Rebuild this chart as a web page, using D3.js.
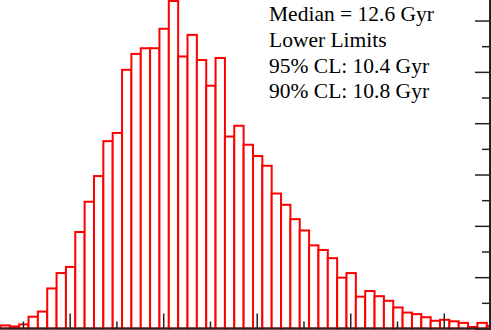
<!DOCTYPE html>
<html>
<head>
<meta charset="utf-8">
<script src="https://cdn.jsdelivr.net/npm/d3@7"></script>
<style>
  html, body { margin: 0; padding: 0; background: #fff; }
  svg { display: block; }
</style>
</head>
<body>
<div id="chart"></div>
<script>
// age histogram, bins of 0.2 Gyr
const binStart = 8.52;
const binWidth = 0.2;
const counts = [6, 4, 8, 23, 33, 78, 108, 120, 188, 247,
                297, 365, 381, 504, 535, 546, 546, 584, 638, 530,
                572, 523, 473, 527, 374, 395, 358, 336, 317, 263,
                241, 213, 191, 162, 153, 137, 99, 108, 62, 73,
                63, 54, 41, 31, 28, 22, 15, 17, 14, 11,
                3, 11, 5];

const xMajor = [10, 12, 14, 16, 18];
const xMinor = [9, 11, 13, 15, 17];
const yMajor = [0, 100, 200, 300, 400, 500, 600];
const yMinor = [50, 150, 250, 350, 450, 550];

const labels = ["Median = 12.6 Gyr", "Lower Limits", "95% CL: 10.4 Gyr", "90% CL: 10.8 Gyr"];

const width = 491;
const height = 330;
const bottom = 328.5;
const right = 490;

const svg = d3.select("#chart")
    .append("svg")
    .attr("width", width)
    .attr("height", height);

const x = d3.scaleLinear().domain([8.51, 19.01]).range([0, width]);
const y = d3.scaleLinear().domain([0, 640]).range([bottom, 0]);

const bins = counts.map((c, i) => ({x0: binStart + i * binWidth, x1: binStart + (i + 1) * binWidth, n: c}));

svg.append("g")
    .selectAll("rect")
    .data(bins)
    .enter()
    .append("rect")
    .attr("x", d => x(d.x0))
    .attr("y", d => y(d.n))
    .attr("width", d => x(d.x1) - x(d.x0))
    .attr("height", d => y(0) - y(d.n))
    .attr("fill", "#fff")
    .attr("stroke", "#ff0000")
    .attr("stroke-width", 2);

function drawAxis(gen, tr) {
    const g = svg.append("g").attr("transform", tr).call(gen);
    g.select(".domain").remove();
    g.selectAll("text").remove();
    g.selectAll("line").attr("stroke", "#222").attr("stroke-width", 1.5);
}

drawAxis(d3.axisTop(x).tickValues(xMajor).tickSize(15).tickFormat(""), `translate(0,${bottom})`);
drawAxis(d3.axisTop(x).tickValues(xMinor).tickSize(7).tickFormat(""), `translate(0,${bottom})`);
drawAxis(d3.axisLeft(y).tickValues(yMajor).tickSize(15).tickFormat(""), `translate(${right},0)`);
drawAxis(d3.axisLeft(y).tickValues(yMinor).tickSize(8).tickFormat(""), `translate(${right},0)`);

svg.append("line")
    .attr("x1", 0).attr("x2", width)
    .attr("y1", bottom).attr("y2", bottom)
    .attr("stroke", "#222").attr("stroke-width", 2);
svg.append("line")
    .attr("x1", right).attr("x2", right)
    .attr("y1", 0).attr("y2", height)
    .attr("stroke", "#222").attr("stroke-width", 2);

svg.append("g")
    .selectAll("text")
    .data(labels)
    .enter()
    .append("text")
    .attr("x", 269)
    .attr("y", (d, i) => 20.7 + i * 25.9)
    .attr("font-family", "'Liberation Serif', 'DejaVu Serif', serif")
    .attr("font-size", "21.5px")
    .attr("fill", "#000")
    .text(d => d);
</script>
</body>
</html>
